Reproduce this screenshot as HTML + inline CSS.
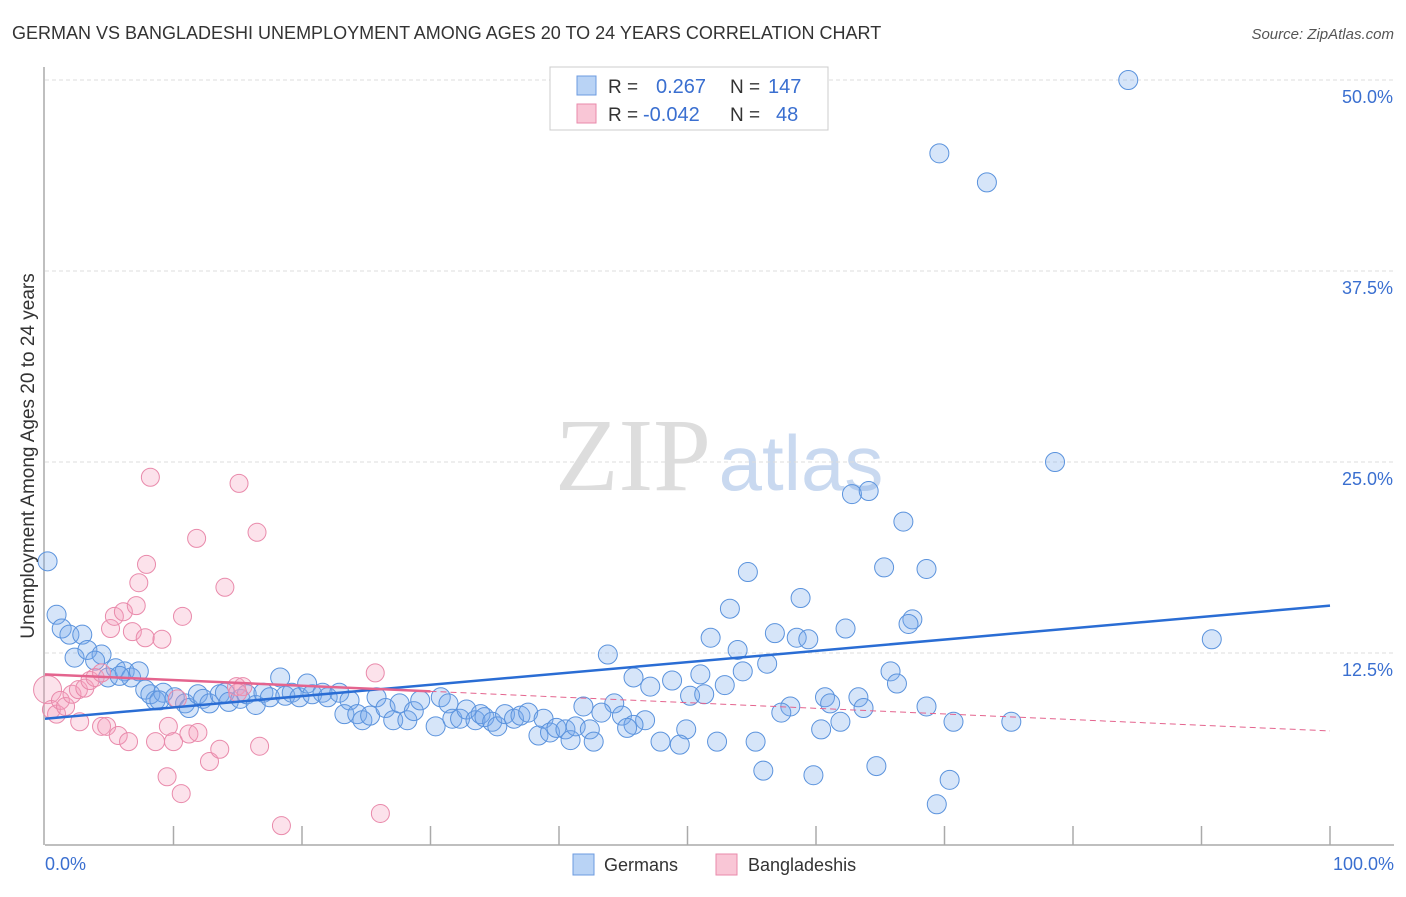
<!DOCTYPE html>
<html><head><meta charset="utf-8"><style>
body{margin:0;background:#fff;font-family:"Liberation Sans",sans-serif}
</style></head><body>
<svg id="chart" width="1406" height="892" xmlns="http://www.w3.org/2000/svg" font-family="Liberation Sans, sans-serif">
<text x="12" y="39" font-size="18" fill="#333">GERMAN VS BANGLADESHI UNEMPLOYMENT AMONG AGES 20 TO 24 YEARS CORRELATION CHART</text>
<text x="1394" y="39" font-size="15" fill="#555" text-anchor="end" font-style="italic">Source: ZipAtlas.com</text>
<g><text x="633" y="490" font-size="104" fill="#ddd" text-anchor="middle" font-family="Liberation Serif, serif">ZIP</text><text x="801" y="490" font-size="78" fill="#c9d9f0" text-anchor="middle">atlas</text></g>
<g id="grid"></g>
<g id="axes"></g>
<g id="pts"></g>
<g id="trend"></g>
<text transform="translate(34,456) rotate(-90)" font-size="19" fill="#333" text-anchor="middle">Unemployment Among Ages 20 to 24 years</text>
<text x="45" y="870" font-size="18" fill="#3a6fd0">0.0%</text>
<text x="1394" y="870" font-size="18" fill="#3a6fd0" text-anchor="end">100.0%</text>
<g>
<rect x="550" y="67" width="278" height="63" fill="#fff" stroke="#ccc"/>
<rect x="577" y="76" width="19" height="19" fill="#b9d3f5" stroke="#6c9be0"/>
<rect x="577" y="104" width="19" height="19" fill="#f9c6d6" stroke="#e98aab"/>
<text x="608" y="93" font-size="19" fill="#333">R =</text><text x="656" y="93" font-size="20" fill="#3a6fd0">0.267</text>
<text x="730" y="93" font-size="19" fill="#333">N =</text><text x="768" y="93" font-size="20" fill="#3a6fd0">147</text>
<text x="608" y="121" font-size="19" fill="#333">R =</text><text x="643" y="121" font-size="20" fill="#3a6fd0">-0.042</text>
<text x="730" y="121" font-size="19" fill="#333">N =</text><text x="776" y="121" font-size="20" fill="#3a6fd0">48</text>
</g>
<g>
<rect x="573" y="854" width="21" height="21" fill="#b9d3f5" stroke="#6c9be0"/>
<text x="604" y="871" font-size="18" fill="#333">Germans</text>
<rect x="716" y="854" width="21" height="21" fill="#f9c6d6" stroke="#e98aab"/>
<text x="748" y="871" font-size="18" fill="#333">Bangladeshis</text>
</g>
</svg>
<script>
const yTicks=[12.5,25,37.5,50];
const yTickLabels=["12.5%","25.0%","37.5%","50.0%"];
const xTicks=[10,20,30,40,50,60,70,80,90,100];
const germanX=[84.3,69.6,73.3,78.6,62.8,64.1,66.8,54.7,65.3,68.6,58.8,53.3,67.5,67.2,62.3,56.8,51.8,58.5,59.4,90.8,53.9,43.8,56.2,54.3,45.8,51.0,65.8,47.1,48.8,52.9,66.3,50.2,51.3,60.7,63.3,61.1,44.3,41.9,58.0,63.7,68.6,57.3,43.3,44.9,46.7,45.8,45.3,61.9,70.7,75.2,49.9,60.4,47.9,49.4,52.3,55.3,55.9,59.8,64.7,70.4,69.4,
0.2,0.9,1.3,1.9,2.9,2.3,3.3,4.4,3.9,5.5,4.9,6.2,6.7,7.3,5.8,7.8,8.6,8.2,9.2,10.1,8.9,10.9,11.2,11.9,12.3,12.8,13.6,14.0,14.3,15.2,15.7,16.4,17.0,17.5,18.3,18.7,19.2,19.8,20.4,20.8,21.6,22.0,22.9,23.7,23.3,24.3,24.7,25.3,25.8,26.5,27.1,27.6,28.2,28.7,29.2,30.4,30.8,31.4,31.7,32.3,32.8,33.5,33.9,34.2,34.8,35.2,35.8,36.5,37.0,37.6,38.4,38.8,39.3,39.8,40.5,40.9,41.3,42.4,42.7];
const germanY=[50.0,45.2,43.3,25.0,22.9,23.1,21.1,17.8,18.1,18.0,16.1,15.4,14.7,14.4,14.1,13.8,13.5,13.5,13.4,13.4,12.7,12.4,11.8,11.3,10.9,11.1,11.3,10.3,10.7,10.4,10.5,9.7,9.8,9.6,9.6,9.2,9.2,9.0,9.0,8.9,9.0,8.6,8.6,8.4,8.1,7.8,7.6,8.0,8.0,8.0,7.5,7.5,6.7,6.5,6.7,6.7,4.8,4.5,5.1,4.2,2.6,
18.5,15.0,14.1,13.7,13.7,12.2,12.7,12.4,12.0,11.5,10.9,11.3,10.9,11.3,11.0,10.1,9.4,9.8,9.9,9.6,9.4,9.2,8.9,9.8,9.5,9.2,9.8,9.9,9.3,9.5,9.8,9.1,9.9,9.6,10.9,9.7,9.9,9.6,10.5,9.8,9.9,9.6,9.9,9.4,8.5,8.5,8.1,8.4,9.6,8.9,8.1,9.2,8.1,8.7,9.4,7.7,9.6,9.2,8.2,8.2,8.8,8.1,8.5,8.3,8.0,7.7,8.5,8.2,8.4,8.6,7.1,8.2,7.3,7.6,7.5,6.8,7.7,7.5,6.7];
const bangX=[0.2,0.5,0.9,1.2,1.6,2.1,2.6,3.1,3.5,3.9,4.4,2.7,4.4,4.8,5.7,6.5,5.1,5.4,6.1,7.1,6.8,7.8,9.1,7.3,7.9,8.2,10.7,11.8,14.0,15.1,16.5,8.6,9.6,10.0,11.2,11.9,9.5,10.6,12.8,13.6,16.7,14.9,15.4,15.0,10.3,25.7,18.4,26.1];
const bangY=[10.1,8.8,8.5,9.4,9.0,9.8,10.1,10.2,10.7,10.9,11.2,8.0,7.7,7.7,7.1,6.7,14.1,14.9,15.2,15.6,13.9,13.5,13.4,17.1,18.3,24.0,14.9,20.0,16.8,23.6,20.4,6.7,7.7,6.7,7.2,7.3,4.4,3.3,5.4,6.2,6.4,10.3,10.3,9.9,9.5,11.2,1.2,2.0];
const germanTrend=[8.2,15.6];
const bangTrend=[11.1,7.4];
const bangSolidEnd=30;
const X=v=>45+v*12.85, Y=v=>844-v*15.28;
const NS="http://www.w3.org/2000/svg";
function mk(tag,attrs,parent){const e=document.createElementNS(NS,tag);for(const k in attrs)e.setAttribute(k,attrs[k]);parent.appendChild(e);return e;}
const grid=document.getElementById('grid'),axes=document.getElementById('axes'),pts=document.getElementById('pts'),tr=document.getElementById('trend');
yTicks.forEach((t,i)=>{const l=mk('line',{x1:45,x2:1394,y1:Y(t),y2:Y(t),stroke:'#ddd','stroke-dasharray':'4,3'},grid);


const tx=mk('text',{x:1393,y:Y(t)+23,'font-size':18,fill:'#3a6fd0','text-anchor':'end'},grid);tx.textContent=yTickLabels[i];

});
const ax=mk('line',{x1:45,x2:1394,y1:845,y2:845,stroke:'#aaa','stroke-width':1.5},axes);


const ay=mk('line',{x1:44,x2:44,y1:67,y2:845,stroke:'#aaa','stroke-width':1.5},axes);


xTicks.forEach(t=>{const l=mk('line',{x1:X(t),x2:X(t),y1:826,y2:845,stroke:'#aaa','stroke-width':1.5},axes);

});
germanX.forEach((x,i)=>{const c=mk('circle',{cx:X(x),cy:Y(germanY[i]),r:9.5,fill:'rgba(120,170,235,0.3)',stroke:'#5b93dd','stroke-width':1},pts);

});
bangX.forEach((x,i)=>{const c=mk('circle',{cx:X(x),cy:Y(bangY[i]),r:i==0?14:9,fill:'rgba(245,160,190,0.3)',stroke:'#e98aab','stroke-width':1},pts);

});
const gl=mk('line',{x1:X(0),y1:Y(germanTrend[0]),x2:X(100),y2:Y(germanTrend[1]),stroke:'#2a6dd4','stroke-width':2.5},tr);


const bv=bangTrend[0]+(bangTrend[1]-bangTrend[0])*bangSolidEnd/100;
const bl=mk('line',{x1:X(0),y1:Y(bangTrend[0]),x2:X(bangSolidEnd),y2:Y(bv),stroke:'#e4648e','stroke-width':2.5},tr);


const bd=mk('line',{x1:X(bangSolidEnd),y1:Y(bv),x2:X(100),y2:Y(bangTrend[1]),stroke:'#e4648e','stroke-width':1,'stroke-dasharray':'6,4'},tr);


</script>
</body></html>
